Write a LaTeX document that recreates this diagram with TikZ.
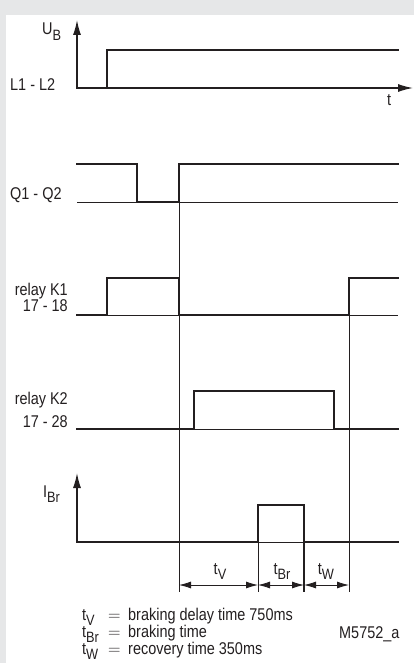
\documentclass[tikz,border=0pt]{standalone}
\usepackage{fontspec}
\setmainfont{Liberation Sans}[FakeStretch=0.85]
\usetikzlibrary{arrows.meta}
\definecolor{bg}{HTML}{E6E7E8}
\definecolor{ink}{HTML}{231F20}
\newcommand{\lowsub}[1]{\raisebox{-5.5pt}{\fontsize{15}{15}\selectfont #1}}
\begin{document}
\begin{tikzpicture}[x=1pt,y=-1pt,
  sig/.style={line width=2.5pt, draw=ink, line join=miter, line cap=rect},
  thinline/.style={line width=0.8pt, draw=ink},
  medline/.style={line width=1.6pt, draw=ink},
  axis/.style={line width=1.3pt, draw=ink, -{Latex[length=15pt,width=8pt]}},
  dim/.style={line width=0.8pt, draw=ink, {Latex[length=12pt,width=7pt]}-{Latex[length=12pt,width=7pt]}},
  lbl/.style={inner sep=0pt, text=ink, font=\fontsize{17}{19}\selectfont}]
\useasboundingbox (0,0) rectangle (414,663);
\fill[bg] (0,0) rectangle (414,663);
\fill[white] (6,15) rectangle (414,663);

% marker coordinates
\coordinate (m1) at (179,202);
\coordinate (m1b) at (179,592);
\coordinate (m4) at (349,278);
\coordinate (m4b) at (349,592);
\coordinate (m2) at (258,505);
\coordinate (m2b) at (258,592);
\coordinate (m3) at (304,542);
\coordinate (m3b) at (304,592);

% vertical marker lines
\draw[thinline] (m1) -- (m1b);
\draw[thinline] (m4) -- (m4b);
\draw[thinline] (m2) -- (m2b);
\draw[medline] (m3) -- (m3b);

% ---- U_B
\draw[axis] (77,88) -- (77,20);
\draw[axis] (77,88) -- (413,88);
\draw[sig] (77,88) -- (107,88) -- (107,50) -- (398,50);
\node[lbl, anchor=base west] (ub) at (42,35) {U\lowsub{B}};
\node[lbl, anchor=base west] (l12) at (10,91) {L1 - L2};
\node[lbl, anchor=base west] (tt) at (387,106) {t};

% ---- Q1-Q2
\draw[thinline] (77,202) -- (398,202);
\draw[sig] (77,164) -- (137,164) -- (137,202) -- (179,202) -- (179,164) -- (398,164);
\node[lbl, anchor=base west] (q12) at (10,199) {Q1 - Q2};

% ---- relay K1
\draw[thinline] (77,315) -- (398,315);
\draw[sig] (77,315) -- (107,315) -- (107,278) -- (179,278) -- (179,315) -- (349,315) -- (349,278) -- (398,278);
\node[lbl, anchor=base east] (k1a) at (68,295) {relay K1};
\node[lbl, anchor=base east] (k1b) at (68,311) {17 - 18};

% ---- relay K2
\draw[thinline] (77,429) -- (398,429);
\draw[sig] (77,429) -- (194,429) -- (194,391) -- (334,391) -- (334,429) -- (398,429);
\node[lbl, anchor=base east] (k2a) at (68,404) {relay K2};
\node[lbl, anchor=base east] (k2b) at (68,427) {17 - 28};

% ---- I_Br
\draw[axis] (77,542) -- (77,473);
\draw[thinline] (258,542) -- (304,542);
\draw[sig] (77,542) -- (258,542) -- (258,505) -- (304,505) -- (304,542) -- (398,542);
\node[lbl, anchor=base west] (ibr) at (43,497) {I\lowsub{Br}};

% ---- dimensions
\draw[dim] (179,585) -- (258,585);
\draw[dim] (258,585) -- (304,585);
\draw[dim] (304,585) -- (349,585);
\node[lbl, anchor=base] (dtv) at (220,574) {t\lowsub{V}};
\node[lbl, anchor=base] (dtbr) at (282,574) {t\lowsub{Br}};
\node[lbl, anchor=base] (dtw) at (326,574) {t\lowsub{W}};

% ---- legend
\node[lbl, anchor=base west] (l1a) at (82,620) {t\lowsub{V}};
\node[lbl, anchor=base west] (l1b) at (108,620) {$=$};
\node[lbl, anchor=base west] (l1c) at (128,620) {braking delay time 750ms};
\node[lbl, anchor=base west] (l2a) at (82,637) {t\lowsub{Br}};
\node[lbl, anchor=base west] (l2b) at (108,637) {$=$};
\node[lbl, anchor=base west] (l2c) at (128,637) {braking time};
\node[lbl, anchor=base west] (l3a) at (82,654) {t\lowsub{W}};
\node[lbl, anchor=base west] (l3b) at (108,654) {$=$};
\node[lbl, anchor=base west] (l3c) at (128,654) {recovery time 350ms};
\node[lbl, anchor=base west] (code) at (339,638) {M5752\_a};
\end{tikzpicture}
\end{document}
